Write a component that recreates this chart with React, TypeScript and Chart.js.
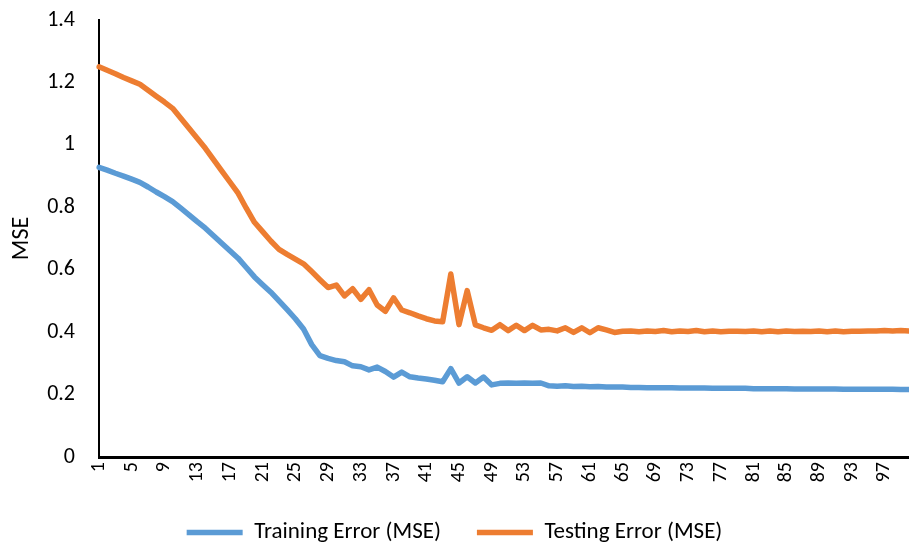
import React, { useEffect, useRef } from "react";
import Chart from "chart.js/auto";

const categories: string[] = Array.from({ length: 100 }, (_, i) => String(i + 1));

const trainingError: number[] = [
  0.928, 0.919, 0.909, 0.9, 0.89, 0.88, 0.865, 0.849, 0.834, 0.818,
  0.797, 0.776, 0.754, 0.733, 0.709, 0.685, 0.661, 0.637, 0.607, 0.577,
  0.552, 0.528, 0.5, 0.472, 0.443, 0.41, 0.36, 0.325, 0.316, 0.309,
  0.305, 0.292, 0.289, 0.279, 0.288, 0.274, 0.256, 0.272, 0.257, 0.253,
  0.25, 0.246, 0.241, 0.283, 0.237, 0.257, 0.237, 0.256, 0.231, 0.236,
  0.237, 0.236, 0.237, 0.236, 0.237, 0.228, 0.227, 0.228, 0.226, 0.227,
  0.225, 0.226, 0.224, 0.224, 0.224, 0.223, 0.223, 0.222, 0.222, 0.222,
  0.222, 0.221, 0.221, 0.221, 0.221, 0.22, 0.22, 0.22, 0.22, 0.22,
  0.219, 0.219, 0.219, 0.219, 0.219, 0.218, 0.218, 0.218, 0.218, 0.218,
  0.218, 0.217, 0.217, 0.217, 0.217, 0.217, 0.217, 0.217, 0.216, 0.216,
];

const testingError: number[] = [
  1.25, 1.239, 1.228, 1.216, 1.205, 1.194, 1.175, 1.156, 1.137, 1.117,
  1.085, 1.053, 1.021, 0.989, 0.953, 0.917, 0.881, 0.845, 0.797, 0.752,
  0.722, 0.692, 0.665, 0.649, 0.634, 0.619, 0.594, 0.568, 0.543, 0.551,
  0.516, 0.539, 0.505, 0.536, 0.487, 0.467, 0.51, 0.471, 0.462, 0.452,
  0.443, 0.436, 0.433, 0.586, 0.424, 0.533, 0.423, 0.414, 0.406, 0.424,
  0.405, 0.422, 0.405, 0.422, 0.407, 0.409, 0.404, 0.414, 0.399, 0.414,
  0.398, 0.414, 0.407, 0.399, 0.403, 0.404, 0.401, 0.404, 0.402, 0.405,
  0.401, 0.404, 0.402, 0.405, 0.401, 0.404, 0.401, 0.403, 0.403, 0.402,
  0.404, 0.401, 0.404, 0.401, 0.404, 0.402, 0.403, 0.402, 0.404, 0.401,
  0.404, 0.401, 0.403, 0.403, 0.404, 0.404, 0.405, 0.404, 0.405, 0.404,
];

const seriesNames: string[] = ["Training Error (MSE)", "Testing Error (MSE)"];
const yTitle = "MSE";

const FONT = "Carlito, Calibri, Lato, sans-serif";

export default function App() {
  const ref = useRef<HTMLCanvasElement | null>(null);

  useEffect(() => {
    document.body.style.margin = "0";
    if (!ref.current) return;
    const chart = new Chart(ref.current, {
      type: "line",
      data: {
        labels: categories,
        datasets: [
          {
            label: seriesNames[0],
            data: trainingError,
            borderColor: "#5B9BD5",
            backgroundColor: "#5B9BD5",
            borderWidth: 5.5,
            pointRadius: 0,
            tension: 0,
            borderJoinStyle: "round",
            borderCapStyle: "round",
          },
          {
            label: seriesNames[1],
            data: testingError,
            borderColor: "#ED7D31",
            backgroundColor: "#ED7D31",
            borderWidth: 5.5,
            pointRadius: 0,
            tension: 0,
            borderJoinStyle: "round",
            borderCapStyle: "round",
          },
        ],
      },
      options: {
        animation: false,
        responsive: true,
        maintainAspectRatio: false,
        layout: { padding: { top: 20, right: 0, left: 0, bottom: -7 } },
        plugins: {
          tooltip: { enabled: false },
          legend: {
            position: "bottom",
            labels: {
              usePointStyle: true,
              pointStyle: "line",
              pointStyleWidth: 56,
              padding: 36,
              color: "#000",
              font: { family: FONT, size: 23 },
            },
          },
        },
        scales: {
          x: {
            offset: false,
            grid: { display: false, drawTicks: false },
            border: { display: true, color: "#000", width: 3 },
            ticks: {
              autoSkip: false,
              minRotation: 90,
              maxRotation: 90,
              padding: 5,
              color: "#000",
              font: { family: FONT, size: 20 },
              callback: (_v: any, i: number) => (i % 4 === 0 ? categories[i] : ""),
            },
            afterFit: (s: any) => {
              s.height = 28;
              s.paddingLeft = 0;
              s.paddingRight = 0;
            },
          },
          y: {
            min: 0,
            max: 1.4,
            grid: { display: false, drawTicks: false },
            border: { display: true, color: "#000", width: 2 },
            ticks: {
              stepSize: 0.2,
              padding: 24,
              color: "#000",
              font: { family: FONT, size: 22 },
              callback: (v: any) => String(Math.round(Number(v) * 10) / 10),
            },
            title: {
              display: true,
              text: yTitle,
              color: "#000",
              font: { family: FONT, size: 24 },
              padding: { top: 8, bottom: 0 },
            },
            afterFit: (s: any) => {
              s.width = 99;
              s.paddingTop = 0;
              s.paddingBottom = 0;
            },
          },
        },
      },
    });
    return () => chart.destroy();
  }, []);

  return (
    <div style={{ width: 909, height: 547, position: "relative" }}>
      <canvas ref={ref} />
    </div>
  );
}
